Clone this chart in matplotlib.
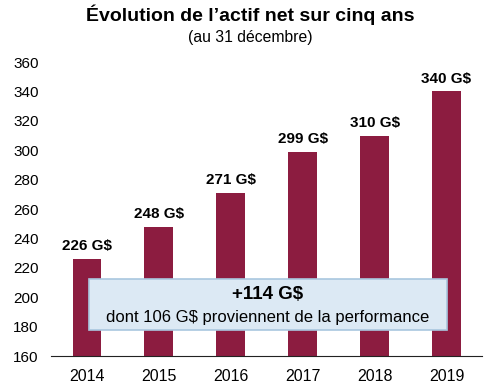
import matplotlib.pyplot as plt
from matplotlib.patches import Rectangle

plt.rcParams["font.family"] = ["Liberation Sans", "DejaVu Sans"]

years = ["2014", "2015", "2016", "2017", "2018", "2019"]
actif = [226, 248, 271, 299, 310, 340]
labels = ["226 G$", "248 G$", "271 G$", "299 G$", "310 G$", "340 G$"]

fig = plt.figure(figsize=(5, 3.91), dpi=100)
ax = fig.add_axes([0.102, 0.0895, 0.863, 0.7519])

x = range(len(years))
ax.bar(x, [v - 160 for v in actif], bottom=160, width=0.4, color="#8C1C40")

for i, (v, lab) in enumerate(zip(actif, labels)):
    ax.text(i, v + 4, lab, ha="center", va="bottom", fontsize=11, fontweight="bold")

ax.set_xlim(-0.5, 5.5)
ax.set_ylim(160, 360)
ax.set_yticks(range(160, 361, 20))
ax.set_xticks(list(x))
ax.set_xticklabels(years)
ax.tick_params(axis="y", length=0, pad=9, labelsize=11)
ax.tick_params(axis="x", length=0, pad=9, labelsize=11.5)
for s in ["top", "right", "left"]:
    ax.spines[s].set_visible(False)
ax.spines["bottom"].set_color("#222222")

box = Rectangle((0.03, 177.7), 4.97, 34.7, facecolor="#dce9f4", edgecolor="#a9c7df", lw=1.2, zorder=3)
ax.add_patch(box)
ax.text(2.515, 202, "+114 G$", ha="center", va="center", fontsize=13.5, fontweight="bold", zorder=4)
ax.text(2.515, 186.5, "dont 106 G$ proviennent de la performance", ha="center", va="center", fontsize=12, zorder=4)

fig.text(0.5, 0.962, "Évolution de l\u2019actif net sur cinq ans", ha="center", va="center", fontsize=14, fontweight="bold")
fig.text(0.5, 0.905, "(au 31 décembre)", ha="center", va="center", fontsize=11.3)

fig.savefig("out.png", dpi=100)
